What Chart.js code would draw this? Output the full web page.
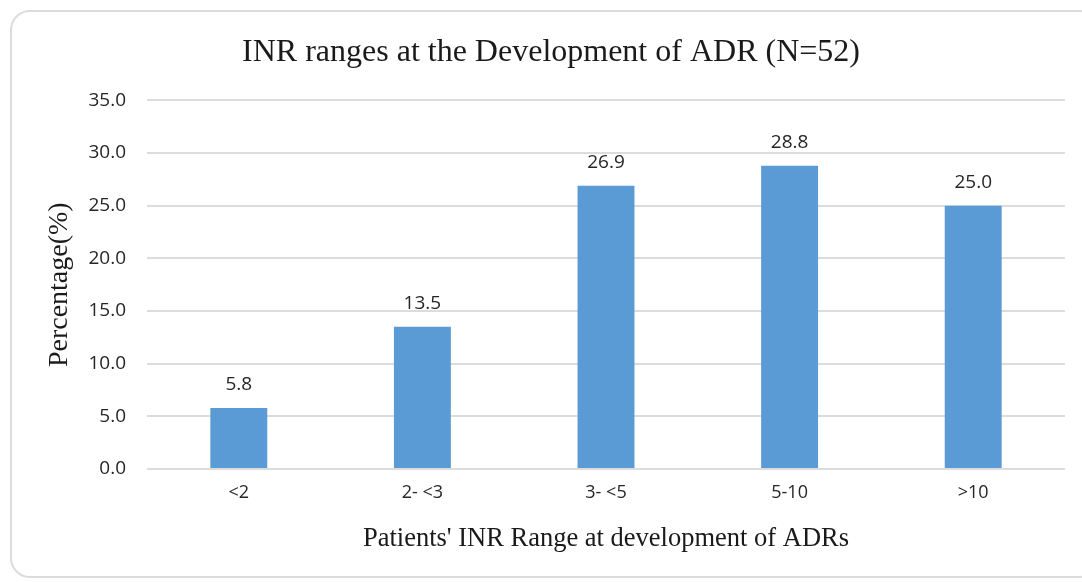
<!DOCTYPE html>
<html>
<head>
<meta charset="utf-8">
<script src="https://cdn.jsdelivr.net/npm/chart.js@4"></script>
<style>
  body { margin: 0; background: #fff; }
  #frame {
    position: absolute; left: 10px; top: 10px; width: 1090px; height: 568px;
    border: 2px solid #dcdcdc; border-radius: 20px; box-sizing: border-box;
  }
  #wrap { position: absolute; left: 0; top: 0; width: 1082px; height: 582px; }
</style>
</head>
<body>
<div id="frame"></div>
<div id="wrap"><canvas id="chart"></canvas></div>
<script>
// ===== Data =====
const categories = ["<2", "2- <3", "3- <5", "5-10", ">10"];
const percentages = [5.8, 13.5, 26.9, 28.8, 25.0];

// ===== Value labels over bars =====
const valueLabels = {
    id: "valueLabels",
    afterDatasetsDraw(chart) {
        const ctx = chart.ctx;
        const meta = chart.getDatasetMeta(0);
        ctx.save();
        ctx.font = "19px 'Open Sans', sans-serif";
        ctx.fillStyle = "#262626";
        ctx.textAlign = "center";
        ctx.textBaseline = "bottom";
        meta.data.forEach((bar, i) => {
            ctx.fillText(percentages[i].toFixed(1), bar.x, bar.y - 14);
        });
        ctx.restore();
    }
};

const ctx = document.getElementById("chart").getContext("2d");
new Chart(ctx, {
    type: "bar",
    data: {
        labels: categories,
        datasets: [{
            data: percentages,
            backgroundColor: "#5b9bd5",
            categoryPercentage: 0.31,
            barPercentage: 1.0
        }]
    },
    options: {
        responsive: true,
        maintainAspectRatio: false,
        animation: false,
        layout: { padding: { left: 37, right: 17, top: 0, bottom: 0 } },
        plugins: {
            legend: { display: false },
            tooltip: { enabled: false },
            title: {
                display: true,
                text: "INR ranges at the Development of ADR (N=52)",
                color: "#1a1a1a",
                font: { family: "'Liberation Serif', serif", size: 32, weight: "normal" },
                padding: { top: 33, bottom: 29 }
            }
        },
        scales: {
            x: {
                grid: { display: false },
                border: { display: false },
                ticks: {
                    color: "#262626",
                    font: { family: "'Open Sans', sans-serif", size: 18 },
                    padding: 5
                },
                title: {
                    display: true,
                    text: "Patients' INR Range at development of ADRs",
                    color: "#1a1a1a",
                    font: { family: "'Liberation Serif', serif", size: 26.5 },
                    padding: { top: 0, bottom: 27 }
                },
                afterFit(scale) { scale.height = 113; }
            },
            y: {
                min: 0,
                max: 35,
                grid: { color: "#dcdcdc", lineWidth: 2, drawTicks: false },
                border: { display: false },
                ticks: {
                    stepSize: 5,
                    color: "#262626",
                    font: { family: "'Open Sans', sans-serif", size: 19 },
                    padding: 21,
                    callback: (v) => v.toFixed(1)
                },
                title: {
                    display: true,
                    text: "Percentage(%)",
                    color: "#1a1a1a",
                    font: { family: "'Liberation Serif', serif", size: 28 },
                    padding: { top: 6, bottom: 0 }
                },
                afterFit(scale) { scale.width = 110; }
            }
        }
    },
    plugins: [valueLabels]
});
</script>
</body>
</html>
